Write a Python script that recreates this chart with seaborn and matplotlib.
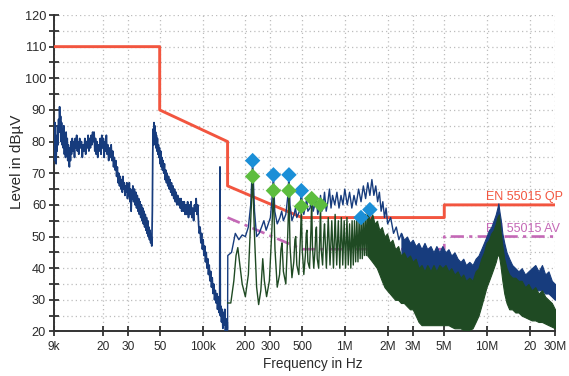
import numpy as np
import pandas as pd
import matplotlib
matplotlib.use("Agg")
import matplotlib.pyplot as plt
from matplotlib.ticker import FixedLocator, NullLocator
import seaborn as sns

# ---------------- data ----------------
# limit lines (Hz, dBuV)
qp_freq = [9e3, 50e3, 50e3, 150e3, 150e3, 500e3, 5e6, 5e6, 30e6]
qp_level = [110, 110, 90, 80, 66, 56, 56, 60, 60]
av_freq = [150e3, 500e3, 5e6, 5e6, 30e6]
av_level = [56, 46, 46, 50, 50]

# peak trace, low-frequency scan (kHz, dBuV)
blue_lf = [
    (9.0, 80), (9.05, 74), (9.1, 84), (9.15, 78), (9.2, 86), (9.25, 76), (9.3, 82), (9.35, 73),
    (9.42, 80), (9.5, 77), (9.58, 85), (9.66, 79), (9.74, 87), (9.82, 83), (9.9, 91), (9.98, 84),
    (10.06, 88), (10.14, 80), (10.22, 86), (10.3, 79), (10.4, 84), (10.5, 78), (10.6, 85), (10.7, 76),
    (10.8, 82), (10.9, 75), (11.0, 83), (11.1, 77), (11.2, 81), (11.3, 74), (11.4, 79), (11.5, 75),
    (11.6, 72), (11.7, 78), (11.8, 74), (11.9, 80), (12.0, 76),
    (12.15, 81), (12.3, 77), (12.45, 80), (12.6, 75), (12.75, 81), (12.9, 78), (13.05, 82), (13.2, 77),
    (13.35, 80), (13.5, 76), (13.7, 81), (13.9, 78), (14.1, 80), (14.3, 75), (14.5, 79), (14.7, 77),
    (14.9, 81), (15.1, 76), (15.3, 80), (15.5, 78), (15.7, 82), (15.9, 77), (16.1, 81), (16.3, 78),
    (16.5, 82), (16.7, 79), (16.9, 83), (17.1, 80), (17.3, 83), (17.5, 77), (17.7, 81), (17.9, 76),
    (18.1, 80), (18.35, 75), (18.6, 79), (18.85, 77), (19.1, 81), (19.35, 76), (19.6, 82), (19.85, 78),
    (20.1, 81), (20.35, 75), (20.6, 80), (20.85, 77), (21.1, 82), (21.35, 76), (21.6, 79), (21.9, 74),
    (22.2, 78), (22.5, 75), (22.8, 79), (23.1, 74),
    (23.4, 77), (23.7, 72), (24.0, 75), (24.3, 71), (24.6, 74), (24.9, 69), (25.2, 72), (25.5, 67),
    (25.8, 70), (26.1, 66), (26.4, 69), (26.7, 65), (27.0, 68), (27.3, 64), (27.6, 69), (27.9, 65),
    (28.2, 67), (28.5, 63), (28.8, 66), (29.1, 64), (29.4, 67), (29.7, 62), (30.0, 66), (30.3, 63),
    (30.6, 67), (30.9, 61), (31.2, 65), (31.5, 58), (31.8, 64), (32.1, 62), (32.4, 66), (32.8, 61),
    (33.2, 65), (33.6, 60), (34.0, 64), (34.4, 59), (34.8, 63), (35.2, 58), (35.6, 62), (36.0, 57),
    (36.4, 61), (36.8, 56), (37.2, 60), (37.6, 55), (38.0, 59), (38.4, 54), (38.8, 58), (39.2, 53),
    (39.6, 57), (40.0, 52), (40.4, 56), (40.8, 51), (41.2, 55), (41.6, 50), (42.0, 53), (42.4, 49),
    (42.8, 52), (43.2, 48), (43.6, 50), (44.0, 47), (44.4, 58), (44.7, 76), (45.0, 84), (45.3, 79),
    (45.6, 86), (45.9, 80), (46.2, 85), (46.5, 79), (46.8, 83), (47.1, 78), (47.4, 82),
    (47.8, 77), (48.2, 81), (48.6, 76), (49.0, 79), (49.4, 75), (49.8, 78), (50.3, 73), (50.8, 77),
    (51.3, 72), (51.8, 75), (52.3, 71), (52.8, 74), (53.4, 70), (54.0, 73), (54.6, 68), (55.2, 71),
    (55.8, 67), (56.4, 70), (57.0, 66), (57.7, 69), (58.4, 65), (59.1, 68), (59.8, 64), (60.5, 67),
    (61.2, 63), (62.0, 66), (62.8, 62), (63.6, 65), (64.4, 61), (65.2, 64), (66.0, 60), (66.9, 63),
    (67.8, 60), (68.7, 62), (69.6, 59), (70.5, 62), (71.4, 58), (72.4, 61), (73.4, 58), (74.4, 61),
    (75.4, 57), (76.4, 60), (77.5, 57), (78.6, 61), (79.7, 56), (80.8, 60), (81.9, 57), (83.0, 61),
    (84.2, 56), (85.4, 59), (86.6, 55), (87.8, 60), (89.0, 58), (90.2, 62), (91.4, 57), (92.6, 60),
    (93.8, 54), (95.0, 51), (96.2, 53), (97.4, 48),
    (98.6, 51), (99.8, 46), (101, 49), (102.3, 44), (103.6, 47), (104.9, 42), (106.2, 45), (107.5, 40),
    (108.8, 43), (110.1, 38), (111.4, 41), (112.8, 36), (114.2, 39), (115.6, 34), (117, 37), (118.5, 32),
    (120, 35), (121.5, 30), (123, 33), (124.5, 29), (126, 32), (127.5, 27), (129, 31), (130.5, 26),
    (132, 29), (132.7, 72), (133.4, 25), (134.5, 28), (136, 23), (137.5, 27), (139, 21), (140.5, 26),
    (142, 22), (143.5, 27), (145, 20), (146.5, 24), (148, 20), (149.2, 23), (150, 20.5),
]

# peak trace, second scan (kHz, dBuV)
blue_hf = [
    (150, 21), (150.5, 44), (160, 45), (170, 51), (180, 49), (190, 50.5), (200, 50), (210, 53),
    (218, 60), (225, 74), (232, 58), (240, 50), (250, 51), (260, 53), (270, 55), (280, 52),
    (300, 56), (308, 62), (315, 69.5), (322, 58), (335, 54), (350, 56), (360, 58), (370, 55),
    (385, 57), (398, 63), (405, 69.5), (412, 60), (425, 55), (440, 57), (450, 59), (460, 56),
    (480, 58), (488, 61), (495, 64.5), (502, 60), (515, 57), (530, 60), (540, 62), (550, 58),
    (570, 59), (585, 63), (600, 58), (615, 60), (630, 62), (645, 57), (660, 59), (675, 63),
    (690, 58), (705, 60), (720, 64), (740, 58), (760, 61), (780, 65), (800, 59), (820, 63),
    (850, 60), (880, 64), (910, 59), (940, 63), (970, 60), (1000, 65), (1040, 60), (1080, 64),
    (1120, 59), (1160, 63), (1200, 60), (1250, 65), (1300, 61), (1350, 66), (1400, 62), (1450, 67),
    (1500, 63), (1550, 68), (1600, 63), (1650, 66), (1700, 61), (1750, 64), (1800, 58), (1850, 61),
    (1900, 56), (1950, 59), (2000, 54), (2100, 56), (2200, 51), (2300, 53), (2400, 49), (2500, 51),
    (2600, 47),
]

# peak trace, dense band above 2.5 MHz (MHz, low, high)
blue_band = [
    (2.5, 44, 51), (2.6, 43, 49), (2.73, 42, 50), (2.87, 41, 48), (3.0, 41, 49), (3.15, 40, 47),
    (3.3, 39, 48), (3.46, 39, 46), (3.63, 38, 48), (3.8, 38, 46), (4.0, 38, 47), (4.2, 38, 45),
    (4.4, 38, 47), (4.62, 38, 45), (4.85, 38, 47), (5.1, 38, 45), (5.35, 37, 46), (5.6, 37, 44),
    (5.9, 36, 45), (6.2, 36, 43), (6.5, 35, 42), (6.8, 35, 43), (7.1, 34, 41), (7.5, 34, 42),
    (7.9, 34, 41), (8.3, 36, 43), (8.7, 38, 44), (9.1, 40, 46), (9.5, 42, 48), (9.9, 45, 50),
    (10.3, 46, 52), (10.7, 48, 53), (11.1, 50, 55), (11.5, 52, 57), (11.8, 54, 59), (12.0, 55, 60.5),
    (12.2, 53, 58), (12.5, 49, 55), (12.8, 45, 51), (13.2, 42, 48), (13.7, 39, 45), (14.3, 37, 43),
    (15.0, 35, 41), (15.8, 34, 40), (16.6, 33, 39), (17.5, 33, 40), (18.5, 33, 38), (19.5, 32, 39),
    (20.6, 33, 40), (21.8, 33, 41), (23.0, 33, 39), (24.3, 33, 41), (25.6, 32, 38), (27.0, 32, 39),
    (28.5, 31, 36), (30.0, 30, 35),
]

# average trace, harmonic comb (kHz, dBuV)
green_comb = [
    (150, 29), (158, 29), (166, 36), (172, 44), (177, 46.5), (183, 41), (190, 35), (200, 31),
    (210, 38), (218, 55), (225, 69), (232, 50), (240, 34), (248, 28.5), (257, 33), (265, 43),
    (272, 36), (282, 31), (295, 36), (307, 52), (315, 64.5), (323, 46), (335, 34), (348, 38),
    (356, 46), (362, 48), (370, 39), (385, 35), (398, 52), (405, 64.5), (412, 47), (425, 37),
    (438, 42), (446, 49), (452, 50), (460, 41), (475, 38), (488, 50), (495, 59.5), (502, 46),
    (515, 38), (528, 44), (536, 51), (542, 52), (550, 42), (565, 40), (578, 52), (585, 62),
    (592, 47), (605, 40), (618, 46), (626, 52), (632, 53), (640, 43), (655, 40), (668, 51),
    (675, 60), (682, 46), (698, 41), (712, 51), (720, 54), (742, 40), (765, 56), (787, 41),
    (810, 55), (832, 40), (855, 57), (877, 41), (900, 55), (922, 40), (945, 56), (967, 41),
    (990, 55), (1012, 40), (1035, 56), (1057, 41), (1080, 54), (1102, 40), (1125, 55), (1147, 41),
    (1170, 55), (1192, 42), (1215, 56), (1237, 42), (1260, 55), (1282, 43), (1305, 57), (1327, 43),
    (1350, 56), (1372, 44), (1395, 57), (1417, 44), (1440, 58), (1462, 44),
]

# average trace, dense band above 1.44 MHz (MHz, low, high)
green_band = [
    (1.44, 44, 58), (1.5, 43, 55), (1.56, 42, 57), (1.62, 41, 54), (1.68, 40, 55), (1.75, 38, 52),
    (1.82, 36, 53), (1.9, 34, 50), (1.98, 33, 51), (2.07, 32, 48), (2.16, 31, 49), (2.26, 30, 46),
    (2.37, 30, 47), (2.48, 29, 44), (2.6, 29, 45), (2.73, 28, 43), (2.87, 27, 44), (3.0, 27, 42),
    (3.15, 25, 43), (3.3, 23, 40), (3.46, 22, 41), (3.63, 22, 39), (3.8, 22, 41), (4.0, 22, 39),
    (4.2, 22, 41), (4.4, 22, 39), (4.62, 22, 41), (4.85, 22, 40), (5.1, 22, 41), (5.35, 22, 39),
    (5.6, 21.5, 40), (5.9, 21, 38), (6.2, 21, 39), (6.5, 21, 37), (6.8, 20.5, 38), (7.1, 20.5, 36),
    (7.5, 20.5, 37), (7.9, 21, 36), (8.3, 23, 39), (8.7, 25, 40), (9.1, 28, 43), (9.5, 31, 45),
    (9.9, 34, 48), (10.3, 36, 49), (10.7, 38, 51), (11.1, 40, 52), (11.5, 42, 54), (11.8, 44, 56),
    (12.1, 44, 57), (12.4, 41, 52), (12.8, 36, 47), (13.2, 32, 43), (13.7, 29, 40), (14.3, 27, 38),
    (15.0, 27, 37), (15.8, 26, 37), (16.6, 26, 36), (17.5, 25, 36), (18.5, 24.5, 34), (19.5, 24, 35),
    (20.6, 23.5, 33), (21.8, 23.5, 34), (23.0, 23, 32), (24.3, 23, 33), (25.6, 22.5, 31), (27.0, 22, 30),
    (28.5, 21.5, 29), (30.0, 21, 27),
]

# final measurement markers (kHz, dBuV)
qp_marker_khz = [225, 315, 405, 495, 1300, 1500]
qp_marker_db = [74, 69.5, 69.5, 64.5, 56, 58.5]
av_marker_khz = [225, 315, 405, 495, 585, 675]
av_marker_db = [69, 64.5, 64.5, 59.5, 62, 60]

xtick_vals = [9e3, 2e4, 3e4, 5e4, 1e5, 2e5, 3e5, 5e5, 1e6, 2e6, 3e6, 5e6, 1e7, 2e7, 3e7]
xtick_labels = ["9k", "20", "30", "50", "100k", "200", "300", "500", "1M", "2M", "3M", "5M", "10M", "20", "30M"]
ytick_vals = [20, 30, 40, 50, 60, 70, 80, 90, 100, 110, 120]
yminor_vals = [25, 35, 45, 55, 65, 75, 85, 95, 105, 115]

# ---------------- style ----------------
sns.set_theme(style="white")
plt.rcParams['font.family'] = ['Liberation Sans', 'DejaVu Sans']

RED = "#f2553f"
MAG = "#c468b6"
NAVY = "#173c7d"
DGREEN = "#1f4a23"
MBLUE = "#1b8fd7"
MGREEN = "#5dbd3e"
TXT = "#2a2a2a"

fig = plt.figure(figsize=(5.69, 3.76), dpi=100)
ax = fig.add_axes([0.0944, 0.1184, 0.8810, 0.8417])
ax.set_xscale("log")

# limit lines
sns.lineplot(x=qp_freq, y=qp_level, sort=False, estimator=None, ax=ax, color=RED, lw=2.1, zorder=3)
sns.lineplot(x=av_freq, y=av_level, sort=False, estimator=None, ax=ax, color=MAG, lw=1.9,
             linestyle=(0, (5, 2, 1.2, 2)), zorder=3)
ax.text(9.75e6, 60.6, "EN 55015 QP", color=RED, fontsize=9, ha="left", va="bottom", zorder=3)
ax.text(9.75e6, 50.4, "EN 55015 AV", color=MAG, fontsize=9, ha="left", va="bottom", zorder=3)

# peak traces
lf = pd.DataFrame(blue_lf, columns=["khz", "db"])
sns.lineplot(x=lf.khz * 1e3, y=lf.db, sort=False, estimator=None, ax=ax, color=NAVY, lw=1.25, zorder=4)
hf = pd.DataFrame(blue_hf, columns=["khz", "db"])
sns.lineplot(x=hf.khz * 1e3, y=hf.db, sort=False, estimator=None, ax=ax, color=NAVY, lw=1.0, zorder=4)
bb = pd.DataFrame(blue_band, columns=["mhz", "lo", "hi"])
ax.fill_between(bb.mhz * 1e6, bb.lo, bb.hi, color=NAVY, lw=0.8, edgecolor=NAVY, zorder=4)

# average traces
gc = pd.DataFrame(green_comb, columns=["khz", "db"])
sns.lineplot(x=gc.khz * 1e3, y=gc.db, sort=False, estimator=None, ax=ax, color=DGREEN, lw=1.0, zorder=5)
gb = pd.DataFrame(green_band, columns=["mhz", "lo", "hi"])
ax.fill_between(gb.mhz * 1e6, gb.lo, gb.hi, color=DGREEN, lw=0.8, edgecolor=DGREEN, zorder=5)

# markers
sns.scatterplot(x=np.array(qp_marker_khz) * 1e3, y=qp_marker_db, ax=ax, marker="D", s=62,
                color=MBLUE, edgecolor="none", zorder=6)
sns.scatterplot(x=np.array(av_marker_khz) * 1e3, y=av_marker_db, ax=ax, marker="D", s=62,
                color=MGREEN, edgecolor="none", zorder=6)

# axes
ax.set_xlim(9e3, 3e7)
ax.set_ylim(20, 120)
ax.xaxis.set_major_locator(FixedLocator(xtick_vals))
ax.xaxis.set_minor_locator(NullLocator())
ax.set_xticklabels(xtick_labels)
ax.yaxis.set_major_locator(FixedLocator(ytick_vals))
ax.yaxis.set_minor_locator(FixedLocator(yminor_vals))

for s in ["top", "right"]:
    ax.spines[s].set_visible(False)
for s in ["left", "bottom"]:
    ax.spines[s].set_color("#333333")
    ax.spines[s].set_linewidth(1.4)

ax.tick_params(axis="both", which="both", direction="inout", length=7, width=1.3,
               color="#333333", labelcolor=TXT, bottom=True, left=True)
ax.tick_params(axis="x", pad=3, labelsize=8.6)
ax.tick_params(axis="y", pad=2, labelsize=9.2)

ax.grid(True, which="major", axis="x", color="#bdbdbd", lw=0.9, linestyle=(0, (1, 2.4)), zorder=0)
ax.grid(True, which="both", axis="y", color="#bdbdbd", lw=0.9, linestyle=(0, (1, 2.4)), zorder=0)
ax.set_axisbelow(True)

ax.set_xlabel("Frequency in Hz", fontsize=9.8, color=TXT)
ax.xaxis.set_label_coords(0.516, -0.082)
ax.set_ylabel("Level in dBµV", fontsize=11, color=TXT)
ax.yaxis.set_label_coords(-0.06, 0.536)

fig.savefig("out.png", dpi=100)
